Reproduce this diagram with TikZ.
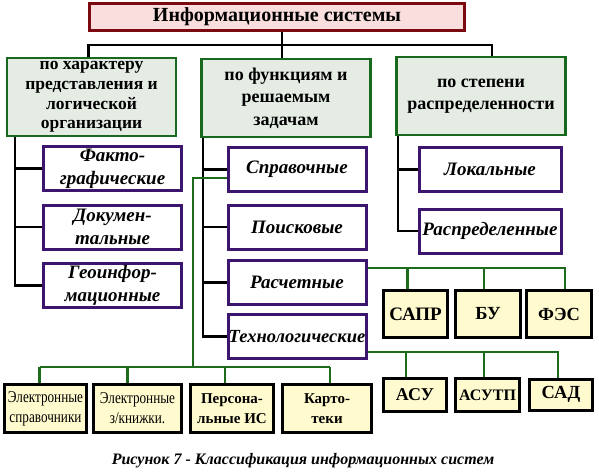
\documentclass[tikz,border=0pt]{standalone}
\usepackage{fontspec}
\setmainfont{Liberation Serif}
\newfontfamily\narrowserif[FakeStretch=0.8]{Liberation Serif}
\usepackage{tikz}
\usetikzlibrary{positioning,calc}
\definecolor{isred}{RGB}{122,10,16}
\definecolor{ispink}{RGB}{250,222,222}
\definecolor{catgreen}{RGB}{24,104,30}
\definecolor{catfill}{RGB}{228,236,228}
\definecolor{kindpurple}{RGB}{60,22,110}
\definecolor{leafyellow}{RGB}{255,251,206}
\definecolor{busgreen}{RGB}{28,108,28}

\begin{document}
\begin{tikzpicture}[x=1pt, y=-1pt,
	isbox/.style={draw=isred, fill=ispink, line width=2.6pt, minimum width=375, minimum height=27, inner sep=0pt, font=\fontsize{20}{22}\selectfont\bfseries},
	catbox/.style={draw=catgreen, fill=catfill, line width=2.8pt, minimum width=169, minimum height=78, inner sep=0pt, align=center, font=\fontsize{18}{22.5}\selectfont\bfseries},
	kindbox/.style={draw=kindpurple, fill=white, line width=3pt, minimum width=138, minimum height=44, align=center, inner sep=0pt, font=\fontsize{19}{23}\selectfont\bfseries\itshape},
	leafbox/.style={draw=black, fill=leafyellow, line width=3pt, align=center, inner sep=0pt, font=\fontsize{16.5}{20}\selectfont\narrowserif},
	leafbold/.style={leafbox, font=\fontsize{15}{19.5}\selectfont\bfseries},
	bline/.style={draw=black, line width=2.6pt},
	gline/.style={draw=busgreen, line width=2.2pt}]
	\useasboundingbox (0,0) rectangle (599,474);
	% top
	\node[isbox] (is) at (277,17) {Информационные системы};
	\node[catbox, font=\fontsize{17.5}{19.6}\selectfont\bfseries] (harakter) at (91.5,97) {по характеру\\представления и\\логической\\организации};
	\node[catbox] (funkc) at (286,98) {по функциям и\\решаемым\\задачам};
	\node[catbox] (stepen) at (481,96) {по степени\\распределенности};
	% kinds
	\node[kindbox] (fakto) at (112.5,168.5) {Факто-\\графические};
	\node[kindbox] (dokum) at (112.5,227) {Докумен-\\тальные};
	\node[kindbox] (geo) at (112.5,285.5) {Геоинфор-\\мационные};
	\node[kindbox] (sprav) at (297,169.5) {Справочные};
	\node[kindbox] (poisk) at (297,227) {Поисковые};
	\node[kindbox] (rasch) at (297,282.5) {Расчетные};
	\node[kindbox, font=\fontsize{18.5}{22}\selectfont\bfseries\itshape] (tehn) at (297,336.5) {Технологические};
	\node[kindbox, minimum width=142] (lokal) at (490,169.5) {Локальные};
	\node[kindbox, minimum width=142] (raspr) at (490,231) {Распределенные};
	% leaves
	\node[leafbox, minimum width=82, minimum height=48] (esprav) at (45.5,408.5) {Электронные\\справочники};
	\node[leafbox, minimum width=88, minimum height=48] (ezk) at (137.5,408.5) {Электронные\\з/книжки.};
	\node[leafbold, minimum width=83, minimum height=48] (pers) at (232,408.5) {Персона-\\льные ИС};
	\node[leafbold, minimum width=89, minimum height=48] (kart) at (327,408.5) {Карто-\\теки};
	\node[leafbold, minimum width=64, minimum height=47, font=\fontsize{19}{21}\selectfont\bfseries] (sapr) at (415.5,314) {САПР};
	\node[leafbold, minimum width=65, minimum height=47, font=\fontsize{18.5}{21}\selectfont\bfseries] (bu) at (488,314) {БУ};
	\node[leafbold, minimum width=65, minimum height=47, font=\fontsize{18.5}{21}\selectfont\bfseries] (fes) at (559,314) {ФЭС};
	\node[leafbold, minimum width=63, minimum height=33, font=\fontsize{18}{21}\selectfont\bfseries] (asu) at (415,395) {АСУ};
	\node[leafbold, minimum width=64, minimum height=33, font=\fontsize{16}{21}\selectfont\bfseries] (asutp) at (487.5,395) {АСУТП};
	\node[leafbold, minimum width=63, minimum height=31, font=\fontsize{18.5}{21}\selectfont\bfseries] (sad) at (561,394.5) {САД};
	\node[font=\fontsize{16}{18}\selectfont\bfseries\itshape] (caption) at (303,461) {Рисунок 7 - Классификация информационных систем};
	% black tree
	\coordinate (bus) at (282,45);
	\draw[bline] (is.south -| bus) -- (funkc.north -| bus);
	\draw[bline] ([xshift=-3]harakter.north) |- (bus) -| ([xshift=11]stepen.north);
	\coordinate (lspine) at (15,0);
	\coordinate (mspine) at (203,0);
	\coordinate (rspine) at (398,0);
	\draw[bline] (harakter.south -| lspine) |- (geo.west);
	\draw[bline] (funkc.south -| mspine) |- (tehn.west);
	\draw[bline] (stepen.south -| rspine) |- (raspr.west);
	\foreach \n in {fakto,dokum}
		\draw[bline] (\n.west -| lspine) -- (\n.west);
	\foreach \n in {sprav,poisk,rasch}
		\draw[bline] (\n.west -| mspine) -- (\n.west);
	\draw[bline] (lokal.west -| rspine) -- (lokal.west);
	% green buses
	\coordinate (gbus) at (193,367);
	\draw[gline] ([yshift=-8.5]sprav.west) -| (gbus);
	\draw[gline] ([xshift=-6]esprav.north |- gbus) -- ([xshift=3]kart.north |- gbus);
	\foreach \n/\dx in {esprav/-6,ezk/-10,pers/-7,kart/3}
		\draw[gline] ([xshift=\dx]\n.north |- gbus) -- ([xshift=\dx]\n.north);
	\coordinate (rbus) at ([yshift=14.5]rasch.east);
	\draw[gline] (rbus) -| ([xshift=6]fes.north);
	\foreach \n/\dx in {sapr/-8,bu/-4}
		\draw[gline] ([xshift=\dx]\n.north |- rbus) -- ([xshift=\dx]\n.north);
	\coordinate (tbus) at ([yshift=-15.5]tehn.east);
	\draw[gline] (tbus) -| ([xshift=-3]sad.north);
	\foreach \n/\dx in {asu/-9,asutp/-3.5}
		\draw[gline] ([xshift=\dx]\n.north |- tbus) -- ([xshift=\dx]\n.north);
\end{tikzpicture}
\end{document}
